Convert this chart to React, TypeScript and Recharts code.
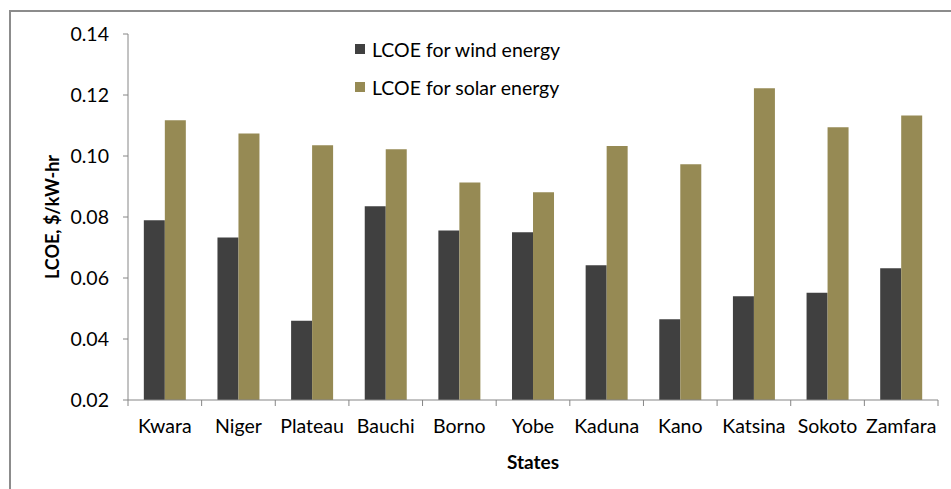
import React from "react";
import { BarChart, Bar, XAxis, YAxis, Label } from "recharts";

const states = ["Kwara", "Niger", "Plateau", "Bauchi", "Borno", "Yobe", "Kaduna", "Kano", "Katsina", "Sokoto", "Zamfara"];
const windLcoe = [0.0789, 0.0733, 0.046, 0.0835, 0.0756, 0.075, 0.0642, 0.0465, 0.054, 0.0552, 0.0632];
const solarLcoe = [0.1117, 0.1074, 0.1035, 0.1022, 0.0913, 0.0881, 0.1033, 0.0973, 0.1222, 0.1094, 0.1133];
const yTicks = [0.02, 0.04, 0.06, 0.08, 0.1, 0.12, 0.14];
const seriesNames = ["LCOE for wind energy", "LCOE for solar energy"];

const WIND = "#404040";
const SOLAR = "#968a54";
const AXIS = "#868686";
const FONT = "Lato, 'Open Sans', sans-serif";

const W = 951;
const H = 489;
const PLOT_LEFT = 128;
const PLOT_RIGHT = 938;
const PLOT_TOP = 34;
const PLOT_BOTTOM = 400;
const BAND = (PLOT_RIGHT - PLOT_LEFT) / states.length;

const data = states.map((s, i) => ({ state: s, wind: windLcoe[i], solar: solarLcoe[i] }));

function StateTick(props: any) {
  const { x, y, payload, index } = props;
  const left = x - BAND / 2;
  return (
    <g>
      <line x1={left} x2={left} y1={PLOT_BOTTOM} y2={PLOT_BOTTOM + 6} stroke={AXIS} />
      {index === states.length - 1 && (
        <line x1={left + BAND} x2={left + BAND} y1={PLOT_BOTTOM} y2={PLOT_BOTTOM + 6} stroke={AXIS} />
      )}
      <text x={x} y={y} dy="0.71em" textAnchor="middle" fill="#000" fontSize={19.5} fontFamily={FONT}>
        {payload.value}
      </text>
    </g>
  );
}

function LegendBox() {
  const colors = [WIND, SOLAR];
  return (
    <div style={{ position: "absolute", left: 355, top: 30, fontFamily: FONT, fontSize: 19.5, color: "#000" }}>
      {seriesNames.map((label, i) => (
        <div key={label} style={{ display: "flex", alignItems: "center", height: 38 }}>
          <span style={{ width: 10, height: 10, background: colors[i], marginRight: 7, display: "inline-block" }} />
          <span>{label}</span>
        </div>
      ))}
    </div>
  );
}

export default function App() {
  return (
    <div style={{ position: "absolute", left: 0, top: 0, width: W, height: H, background: "#fff", overflow: "hidden" }}>
      <div
        style={{
          position: "absolute",
          left: 9,
          top: 10,
          width: 1000,
          height: 600,
          borderLeft: "2px solid #8c8c8c",
          borderTop: "2px solid #8c8c8c",
        }}
      />
      <BarChart
        width={W}
        height={H}
        data={data}
        margin={{ top: PLOT_TOP, right: W - PLOT_RIGHT, bottom: 0, left: 0 }}
        barCategoryGap="21.5%"
        barGap={0}
        style={{ position: "absolute", left: 0, top: 0 }}
      >
        <XAxis
          dataKey="state"
          height={H - PLOT_BOTTOM}
          axisLine={{ stroke: AXIS }}
          tickLine={false}
          tickSize={6}
          tickMargin={13}
          interval={0}
          tick={<StateTick />}
        >
          <Label
            value="States"
            position="insideBottom"
            offset={20}
            style={{ fontFamily: FONT, fontSize: 19, fontWeight: 700, fill: "#000" }}
          />
        </XAxis>
        <YAxis
          width={PLOT_LEFT}
          domain={[0.02, 0.14]}
          ticks={yTicks}
          allowDataOverflow
          axisLine={{ stroke: AXIS }}
          tickLine={{ stroke: AXIS }}
          tickSize={5}
          tickMargin={14}
          tickFormatter={(v: number) => v.toFixed(2)}
          tick={{ fill: "#000", fontSize: 19.5, fontFamily: FONT }}
        >
          <Label
            value="LCOE, $/kW-hr"
            angle={-90}
            position="insideLeft"
            offset={53}
            style={{ fontFamily: FONT, fontSize: 18, fontWeight: 700, fill: "#000", textAnchor: "middle" }}
          />
        </YAxis>
        <Bar dataKey="wind" name={seriesNames[0]} fill={WIND} isAnimationActive={false} />
        <Bar dataKey="solar" name={seriesNames[1]} fill={SOLAR} isAnimationActive={false} />
      </BarChart>
      <LegendBox />
    </div>
  );
}
